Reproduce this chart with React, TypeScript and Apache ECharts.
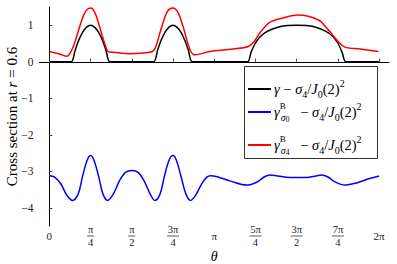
import React, { useEffect, useRef } from 'react';
import * as echarts from 'echarts';

const PI = Math.PI;
const xTickValues = [0, PI / 4, PI / 2, (3 * PI) / 4, PI, (5 * PI) / 4, (3 * PI) / 2, (7 * PI) / 4, 2 * PI];
const xTickLabels = ['0', 'π/4', 'π/2', '3π/4', 'π', '5π/4', '3π/2', '7π/4', '2π'];
const yTickValues = [-4, -3, -2, -1, 0, 1];

const seriesNames = ['gamma', 'gammaB0', 'gammaB4'];

const gammaPts = [
  [0, 0], [0.42, 0], [0.49, 0.31], [0.56, 0.59], [0.635, 0.81], [0.71, 0.95], [0.785, 1],
  [0.86, 0.95], [0.935, 0.81], [1.01, 0.59], [1.08, 0.31], [1.15, 0],
  [1.99, 0], [2.06, 0.31], [2.13, 0.59], [2.205, 0.81], [2.28, 0.95], [2.356, 1],
  [2.43, 0.95], [2.505, 0.81], [2.58, 0.59], [2.65, 0.31], [2.72, 0],
  [3.78, 0], [3.84, 0.25], [3.92, 0.5], [4.01, 0.68], [4.15, 0.83], [4.34, 0.94], [4.53, 0.99], [4.712, 1],
  [4.9, 0.99], [5.09, 0.94], [5.27, 0.83], [5.41, 0.68], [5.5, 0.5], [5.58, 0.25], [5.645, 0],
  [6.283, 0],
];

const gammaB0Pts = [
  [0, -3.12], [0.1, -3.16], [0.22, -3.35], [0.33, -3.65], [0.44, -3.8], [0.55, -3.62], [0.63, -3.15],
  [0.72, -2.7], [0.785, -2.57], [0.85, -2.7], [0.94, -3.15], [1.02, -3.62], [1.11, -3.8], [1.22, -3.62],
  [1.34, -3.25], [1.45, -3.03], [1.571, -2.98], [1.69, -3.03], [1.8, -3.25], [1.92, -3.62], [2.01, -3.8],
  [2.11, -3.62], [2.19, -3.15], [2.28, -2.7], [2.356, -2.57], [2.42, -2.7], [2.51, -3.15], [2.6, -3.62],
  [2.69, -3.8], [2.79, -3.65], [2.9, -3.35], [3.0, -3.16], [3.07, -3.12], [3.2, -3.15], [3.45, -3.27],
  [3.76, -3.38], [3.95, -3.3], [4.1, -3.15], [4.2, -3.1], [4.35, -3.13], [4.58, -3.17], [4.9, -3.17],
  [5.08, -3.13], [5.19, -3.1], [5.3, -3.15], [5.45, -3.3], [5.63, -3.38], [5.85, -3.32], [6.1, -3.2],
  [6.283, -3.13],
];

const gammaB4Pts = [
  [0, 0.28], [0.2, 0.21], [0.33, 0.15], [0.43, 0.33], [0.52, 0.69], [0.62, 1.15], [0.7, 1.4], [0.785, 1.47],
  [0.87, 1.34], [0.965, 0.92], [1.06, 0.47], [1.12, 0.28], [1.22, 0.26], [1.54, 0.22], [1.92, 0.26],
  [2.0, 0.33], [2.05, 0.51], [2.14, 0.95], [2.25, 1.38], [2.356, 1.47], [2.45, 1.35], [2.55, 0.95],
  [2.68, 0.33], [2.77, 0.19], [3.06, 0.28], [3.5, 0.35], [3.79, 0.42], [3.9, 0.55], [4.01, 0.79],
  [4.2, 1.08], [4.45, 1.2], [4.74, 1.28], [5.12, 1.15], [5.31, 0.88], [5.5, 0.56], [5.63, 0.4],
  [5.92, 0.35], [6.27, 0.28],
];

const FONT = 'Liberation Serif';

const legendLabels: Record<string, string> = {
  gamma: '{i|γ} − {i|σ}{sub|4}/{i|J}{sub|0}(2){sup|2}',
  gammaB0: '{i|γ}{supz|B}{subi|σ}{ss|0}{m|   − }{i|σ}{sub|4}/{i|J}{sub|0}(2){sup|2}',
  gammaB4: '{i|γ}{supz|B}{subi|σ}{ss|4}{m|   − }{i|σ}{sub|4}/{i|J}{sub|0}(2){sup|2}',
};

const legendRich = {
  i: { fontFamily: FONT, fontSize: 14.5, fontStyle: 'italic', lineHeight: 22, color: '#000' },
  m: { fontFamily: FONT, fontSize: 14.5, lineHeight: 22, color: '#000' },
  sub: { fontFamily: FONT, fontSize: 10, lineHeight: 11, height: 11, verticalAlign: 'bottom', color: '#000' },
  subi: { fontFamily: FONT, fontSize: 10, fontStyle: 'italic', lineHeight: 11, height: 11, verticalAlign: 'bottom', color: '#000' },
  ss: { fontFamily: FONT, fontSize: 7.5, lineHeight: 7, height: 7, verticalAlign: 'bottom', color: '#000' },
  sup: { fontFamily: FONT, fontSize: 10, lineHeight: 11, height: 11, verticalAlign: 'top', color: '#000' },
  supz: { fontFamily: FONT, fontSize: 9, lineHeight: 10, height: 10, verticalAlign: 'top', width: 1, color: '#000' },
};

export default function App() {
  const ref = useRef<HTMLDivElement>(null);
  useEffect(() => {
    if (!ref.current) return;
    const chart = echarts.init(ref.current, null, { renderer: 'svg' });
    const colors = ['#000000', '#0000ff', '#ff0000'];
    const datasets = [gammaPts, gammaB0Pts, gammaB4Pts];
    const legendTops = [78, 101, 134];
    chart.setOption({
      animation: false,
      backgroundColor: '#fff',
      grid: { left: 39.5, right: 8, top: 7, bottom: 38, containLabel: false, outerBoundsMode: 'none' },
      xAxis: {
        type: 'value',
        min: -0.188,
        max: 2 * PI + 0.188,
        name: 'θ',
        nameLocation: 'middle',
        nameGap: 23,
        nameMoveOverlap: false,
        nameTextStyle: { fontFamily: FONT, fontSize: 14, fontStyle: 'italic', color: '#000' },
        axisLine: { show: true, lineStyle: { color: '#000', width: 1 } },
        axisTick: { show: true, inside: true, length: 3, customValues: xTickValues, lineStyle: { color: '#444' } },
        splitLine: { show: false },
        axisLabel: {
          customValues: xTickValues,
          margin: -1,
          color: '#222',
          fontFamily: FONT,
          formatter: (v: number) => {
            const i = xTickValues.findIndex((t) => Math.abs(t - v) < 1e-6);
            const lab = i >= 0 ? xTickLabels[i] : '';
            if (lab.includes('/')) {
              const [n, d] = lab.split('/');
              return `{n|${n}}\n{${n.length > 1 ? 'barw' : 'bar'}| }\n{d|${d}}`;
            }
            return `{s|${lab}}`;
          },
          rich: {
            n: { fontFamily: FONT, fontSize: 10.5, lineHeight: 9, color: '#222' },
            d: { fontFamily: FONT, fontSize: 10.5, lineHeight: 9, color: '#222' },
            s: { fontFamily: FONT, fontSize: 11, lineHeight: 22, color: '#222' },
            bar: { width: 7, height: 0.8, lineHeight: 4, fontSize: 1, backgroundColor: '#333' },
            barw: { width: 12, height: 0.8, lineHeight: 4, fontSize: 1, backgroundColor: '#333' },
          },
        },
      },
      yAxis: {
        type: 'value',
        min: -4.5,
        max: 1.5,
        name: 'Cross section at {i|r} = 0.6',
        nameLocation: 'middle',
        nameGap: 20,
        nameMoveOverlap: false,
        nameTextStyle: {
          fontFamily: FONT,
          fontSize: 15,
          color: '#000',
          rich: {
            i: { fontFamily: FONT, fontSize: 15, fontStyle: 'italic', color: '#000' },
          },
        },
        axisLine: { show: true, lineStyle: { color: '#000', width: 1 } },
        axisTick: { show: true, inside: true, length: 3, customValues: yTickValues, lineStyle: { color: '#444' } },
        splitLine: { show: false },
        axisLabel: {
          customValues: yTickValues,
          margin: 6,
          color: '#222',
          fontFamily: FONT,
          fontSize: 11.5,
          formatter: (v: number) => (v < 0 ? '−' + Math.abs(v) : String(v)),
        },
      },
      legend: seriesNames.map((name, k) => ({
        data: [name],
        left: 248,
        top: legendTops[k],
        padding: 0,
        icon: 'rect',
        itemWidth: 23,
        itemHeight: 2,
        itemGap: 0,
        selectedMode: false,
        formatter: (n: string) => legendLabels[n],
        textStyle: { fontFamily: FONT, fontSize: 14.5, color: '#000', rich: legendRich, padding: [0, 0, 0, -2] },
      })),
      graphic: [
        {
          type: 'rect',
          shape: { x: 244.5, y: 66.5, width: 133, height: 92 },
          style: { fill: '#fff', stroke: '#333', lineWidth: 1 },
          z: 3,
        },
      ],
      series: seriesNames.map((name, k) => ({
        name,
        type: 'line',
        data: datasets[k],
        showSymbol: false,
        symbol: 'none',
        smooth: k === 0 ? 0.2 : 0.35,
        lineStyle: { color: colors[k], width: 1.5 },
        itemStyle: { color: colors[k] },
        z: 2,
      })),
    });
    return () => chart.dispose();
  }, []);
  return <div ref={ref} style={{ width: 397, height: 264, position: 'absolute', left: 0, top: 0 }} />;
}
